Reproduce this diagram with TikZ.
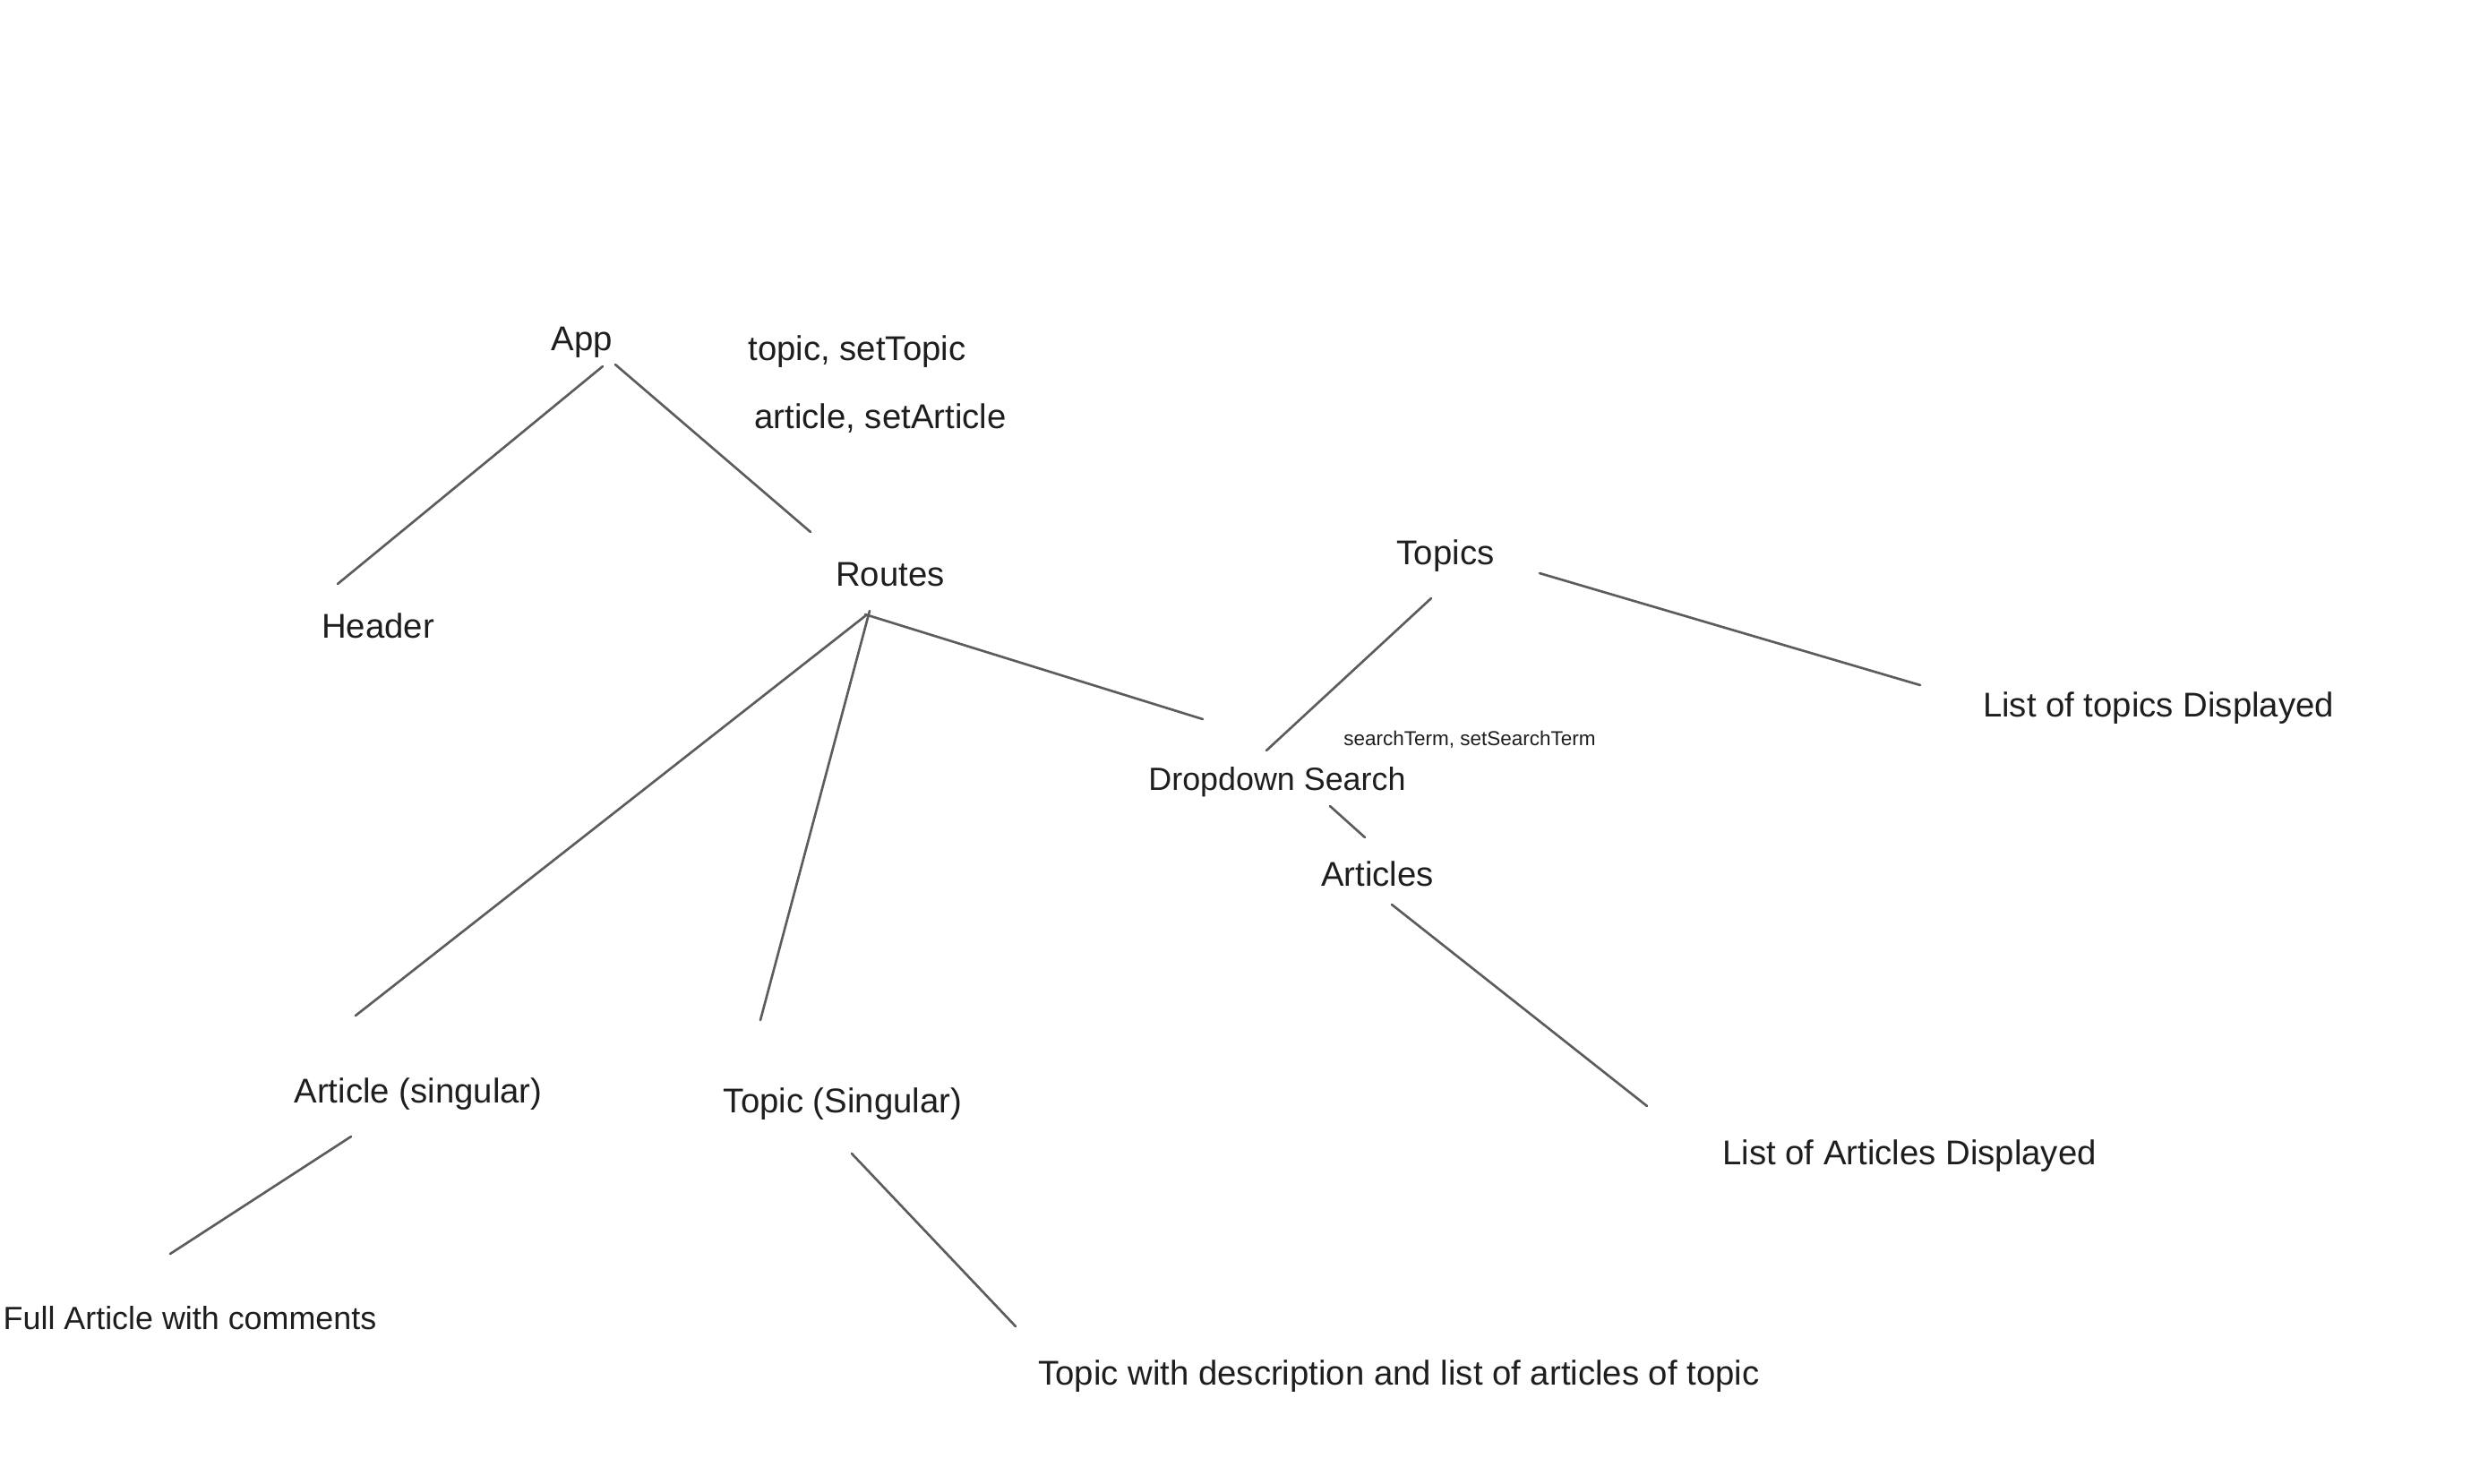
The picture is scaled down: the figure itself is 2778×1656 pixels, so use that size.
\documentclass[tikz,border=0pt]{standalone}
\usepackage{fontspec}
\setmainfont{Liberation Sans}
\definecolor{ink}{HTML}{1E1E1E}
\definecolor{stroke}{HTML}{5C5C5C}
\begin{document}
\begin{tikzpicture}[x=0.01cm,y=-0.01cm,
  lbl/.style={text=ink,font=\fontsize{10.9}{12}\selectfont,inner sep=0pt},
  note/.style={text=ink,font=\fontsize{6.4}{7.5}\selectfont,inner sep=0pt},
  edge/.style={draw=stroke,line width=0.75pt,line cap=round}]
\useasboundingbox[fill=white] (0,0) rectangle (2778,1656);

% component labels
\node[lbl] (app) at (650,382) {App};
\node[lbl] (st1) at (957,393) {topic, setTopic};
\node[lbl] (st2) at (983,467) {article, setArticle};
\node[lbl] (header) at (422,699) {Header};
\node[lbl] (routes) at (994,641) {Routes};
\node[lbl] (topics) at (1614,621) {Topics};
\node[lbl] (topiclist) at (2410,791) {List of topics Displayed};
\node[note] (search) at (1641,826) {searchTerm, setSearchTerm};
\node[lbl,font=\fontsize{10.2}{12}\selectfont] (dropdown) at (1426,873) {Dropdown Search};
\node[lbl] (articles) at (1538,976) {Articles};
\node[lbl] (articlelist) at (2132,1291) {List of Articles Displayed};
\node[lbl] (article) at (467,1222) {Article (singular)};
\node[lbl] (topic) at (941,1233) {Topic (Singular)};
\node[lbl,anchor=west,font=\fontsize{10.2}{12}\selectfont] (full) at (3,1472) {Full Article with comments};
\node[lbl] (topicfull) at (1562,1537) {Topic with description and list of articles of topic};

% free ends of the hand-drawn strokes
\coordinate (appA) at (673,409);   \coordinate (headerA) at (377,652);
\coordinate (appB) at (687,407);   \coordinate (routesA) at (905,594);
\coordinate (routesB) at (966,686); \coordinate (dropA) at (1343,803);
\coordinate (routesC) at (967,687); \coordinate (articleA) at (397,1134);
\coordinate (routesD) at (971,682); \coordinate (topicA) at (849,1139);
\coordinate (topicsA) at (1598,668); \coordinate (dropB) at (1414,838);
\coordinate (topicsB) at (1719,640); \coordinate (tlistA) at (2144,765);
\coordinate (dropC) at (1485,900); \coordinate (articlesA) at (1524,935);
\coordinate (articlesB) at (1554,1010); \coordinate (alistA) at (1839,1235);
\coordinate (articleB) at (392,1269); \coordinate (fullA) at (190,1400);
\coordinate (topicB) at (951,1288); \coordinate (tfullA) at (1134,1481);

% tree strokes
\draw[edge] (appA) -- (headerA);
\draw[edge] (appB) -- (routesA);
\draw[edge] (routesB) -- (dropA);
\draw[edge] (routesC) -- (articleA);
\draw[edge] (routesD) -- (topicA);
\draw[edge] (topicsA) -- (dropB);
\draw[edge] (topicsB) -- (tlistA);
\draw[edge] (dropC) -- (articlesA);
\draw[edge] (articlesB) -- (alistA);
\draw[edge] (articleB) -- (fullA);
\draw[edge] (topicB) -- (tfullA);
\end{tikzpicture}
\end{document}
